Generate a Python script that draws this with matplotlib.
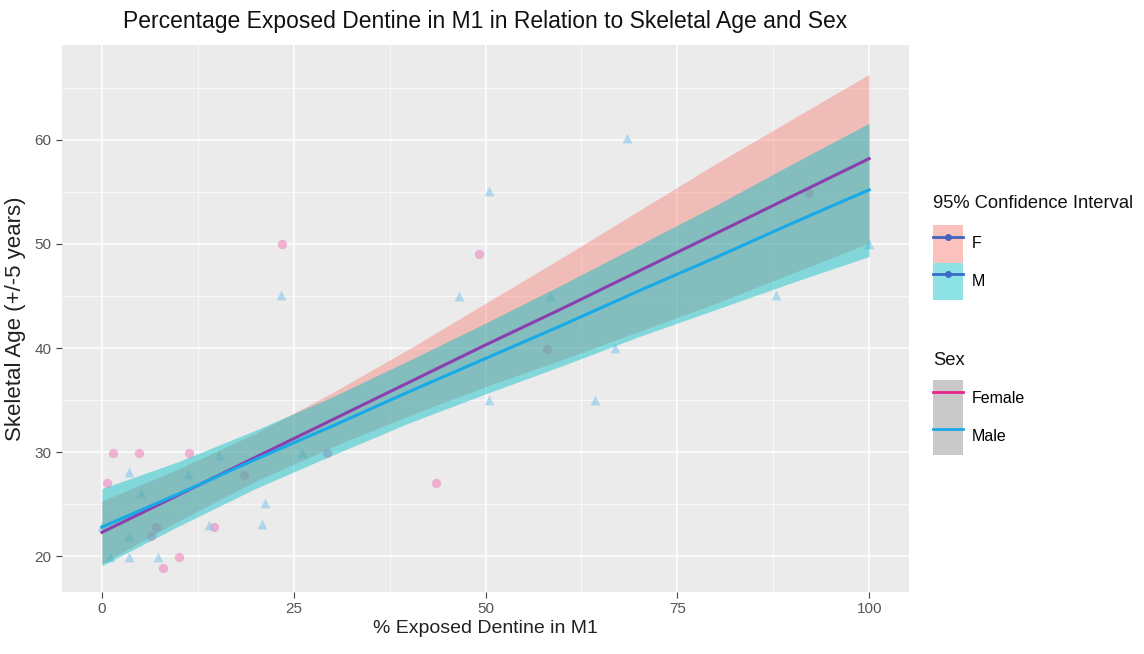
import matplotlib.pyplot as plt
from matplotlib.lines import Line2D
from matplotlib.patches import Patch

plt.rcParams['font.family'] = ['Liberation Sans', 'DejaVu Sans']

# scatter points
female_x = [0.6, 1.4, 4.8, 11.3, 29.3, 7.0, 6.4, 14.6, 10.0, 8.0, 18.5, 23.5, 49.1, 43.6, 58.0, 92.2]
female_y = [27.0, 29.9, 29.9, 29.9, 29.9, 22.8, 21.9, 22.8, 19.9, 18.9, 27.8, 50.0, 49.0, 27.0, 39.9, 54.9]
male_x = [0.0, 1.0, 3.5, 5.1, 3.5, 3.5, 7.3, 11.2, 14.0, 15.3, 20.9, 21.3, 23.3, 26.1,
          46.6, 50.4, 50.4, 58.4, 64.3, 66.9, 68.4, 87.9, 100.0]
male_y = [22.9, 19.9, 28.1, 26.1, 21.9, 19.9, 19.9, 27.9, 23.0, 29.7, 23.1, 25.1, 45.1, 29.9,
          45.0, 55.1, 35.0, 45.0, 35.0, 40.0, 60.2, 45.1, 50.0]

# fitted lines and 95% bands, read at these x positions
fit_x = [0, 10, 20, 30, 40, 50, 60, 70, 80, 90, 100]
f_fit = [22.3, 25.9, 29.5, 33.1, 36.7, 40.3, 43.8, 47.4, 51.0, 54.6, 58.2]
f_hi = [25.3, 28.4, 31.8, 35.7, 39.9, 44.3, 48.7, 53.2, 57.7, 62.0, 66.3]
f_lo = [19.3, 23.4, 27.2, 30.5, 33.5, 36.3, 38.9, 41.6, 44.3, 47.2, 50.1]
m_fit = [22.8, 26.0, 29.3, 32.5, 35.8, 39.0, 42.2, 45.5, 48.7, 52.0, 55.2]
m_hi = [26.5, 29.1, 32.1, 35.3, 38.8, 42.4, 46.1, 49.9, 53.7, 57.7, 61.6]
m_lo = [19.1, 22.9, 26.5, 29.7, 32.8, 35.6, 38.3, 41.1, 43.7, 46.3, 48.8]

x_ticks = [0, 25, 50, 75, 100]
y_ticks = [20, 30, 40, 50, 60]

pink_band = '#F8766D'
teal_band = '#00BFC4'

fig = plt.figure(figsize=(11.44, 6.54), dpi=100)
ax = fig.add_axes([0.0542, 0.0953, 0.7404, 0.8357])
ax.set_facecolor('#EBEBEB')

ax.scatter(female_x, female_y, s=45, marker='o', color='#EE7FB8', alpha=0.55, linewidths=0, zorder=2)
ax.scatter(male_x, male_y, s=50, marker='^', color='#86C8EC', alpha=0.6, linewidths=0, zorder=2)

ax.fill_between(fit_x, f_lo, f_hi, color=pink_band, alpha=0.4, linewidth=0, zorder=3)
ax.fill_between(fit_x, m_lo, m_hi, color=teal_band, alpha=0.45, linewidth=0, zorder=3)

ax.plot(fit_x, f_fit, color='#8B3FAE', lw=2.2, zorder=5)
ax.plot(fit_x, m_fit, color='#17A9E8', lw=2.2, zorder=5)

ax.set_xlim(-5.2, 105.2)
ax.set_ylim(16.6, 69.1)
ax.set_xticks(x_ticks)
ax.set_yticks(y_ticks)
ax.set_xticks([12.5, 37.5, 62.5, 87.5], minor=True)
ax.set_yticks([25, 35, 45, 55, 65], minor=True)
ax.grid(which='major', color='white', lw=1.1, zorder=0)
ax.grid(which='minor', color='white', lw=0.5, zorder=0)
ax.set_axisbelow(True)
for sp in ax.spines.values():
    sp.set_visible(False)
ax.tick_params(which='major', colors='#444444', labelcolor='#555555', labelsize=11, length=4, width=0.8)
ax.tick_params(which='minor', length=0)

ax.set_xlabel('% Exposed Dentine in M1', fontsize=14, color='#222222', labelpad=3)
ax.set_ylabel('Skeletal Age (+/-5 years)', fontsize=16, color='#222222', labelpad=6)
ax.set_title('Percentage Exposed Dentine in M1 in Relation to Skeletal Age and Sex',
             fontsize=16.5, color='#111111', pad=12)

ci_handles = [
    (Patch(facecolor=pink_band, alpha=0.45, edgecolor='none'),
     Line2D([], [], color='#4462C0', lw=2, marker='o', markersize=4)),
    (Patch(facecolor=teal_band, alpha=0.45, edgecolor='none'),
     Line2D([], [], color='#3A6CC8', lw=2, marker='o', markersize=4)),
]
sex_handles = [
    (Patch(facecolor='#C9C9C9', edgecolor='none'), Line2D([], [], color='#E8288C', lw=2)),
    (Patch(facecolor='#C9C9C9', edgecolor='none'), Line2D([], [], color='#1AAAE8', lw=2)),
]

leg_opts = dict(loc='upper left', frameon=False, fontsize=11.5,
                handlelength=1.9, handleheight=3.25, labelspacing=0.0,
                handletextpad=0.55, borderpad=0, borderaxespad=0)
fig.text(0.8156, 0.6896, '95% Confidence Interval', fontsize=13.2, color='#111111', va='center')
fig.legend(ci_handles, ['F', 'M'], bbox_to_anchor=(0.8156, 0.656), **leg_opts)
fig.text(0.8156, 0.4495, 'Sex', fontsize=13.2, color='#111111', va='center')
fig.legend(sex_handles, ['Female', 'Male'], bbox_to_anchor=(0.8156, 0.419), **leg_opts)

fig.savefig('out.png', dpi=100)
